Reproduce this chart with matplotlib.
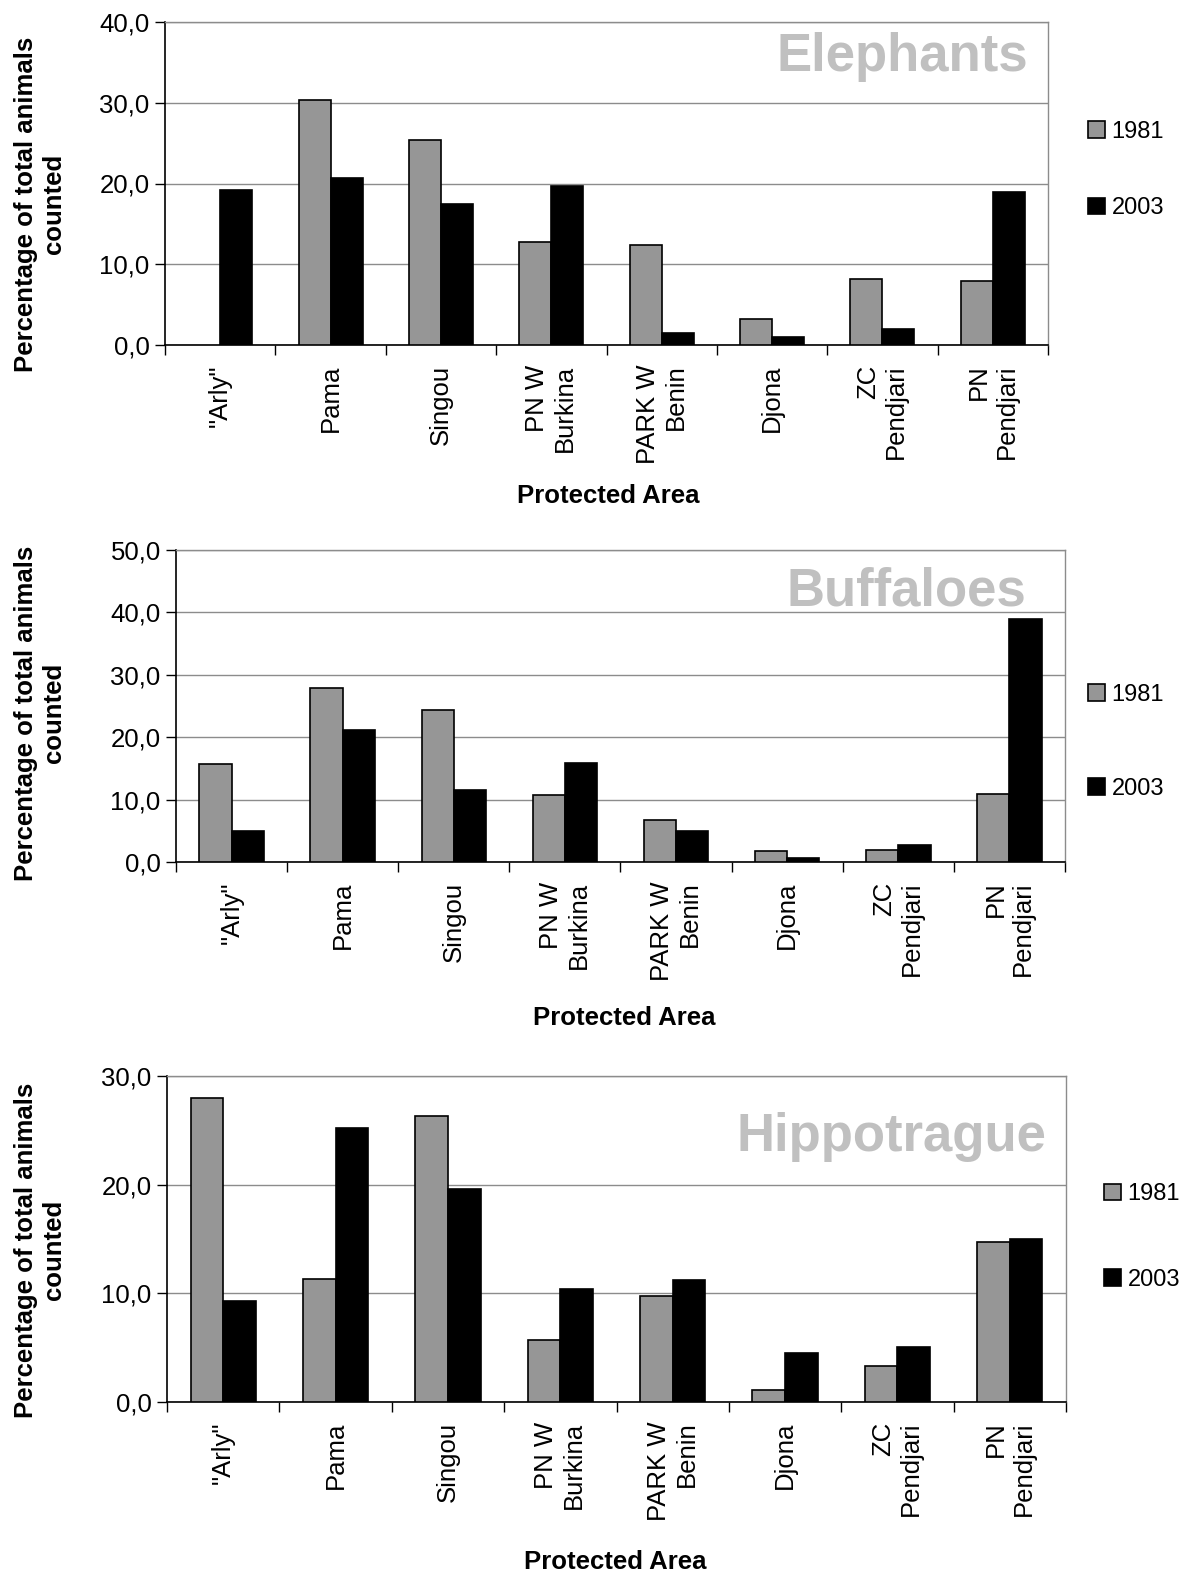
import matplotlib
matplotlib.use("Agg")
import matplotlib.pyplot as plt
import matplotlib.patches as mpatches
import numpy as np

plt.rcParams["font.family"] = ["Liberation Sans", "DejaVu Sans"]

# ---------------------------------------------------------------------------
# Data: share of total animals counted per protected area (%)
# ---------------------------------------------------------------------------
areas = ['"Arly"', "Pama", "Singou", "PN W\nBurkina", "PARK W\nBenin",
         "Djona", "ZC\nPendjari", "PN\nPendjari"]
years = ["1981", "2003"]

elephants_1981 = [0.0, 30.4, 25.4, 12.7, 12.4, 3.2, 8.2, 7.9]
elephants_2003 = [19.2, 20.7, 17.5, 19.7, 1.5, 1.0, 2.0, 18.9]

buffaloes_1981 = [15.7, 27.9, 24.3, 10.7, 6.8, 1.7, 2.0, 10.9]
buffaloes_2003 = [4.9, 21.2, 11.6, 15.8, 4.9, 0.7, 2.7, 38.9]

hippo_1981 = [28.0, 11.3, 26.3, 5.7, 9.8, 1.1, 3.3, 14.7]
hippo_2003 = [9.3, 25.2, 19.6, 10.4, 11.2, 4.5, 5.1, 15.0]

panels = [
    ("Elephants", elephants_1981, elephants_2003, 40),
    ("Buffaloes", buffaloes_1981, buffaloes_2003, 50),
    ("Hippotrague", hippo_1981, hippo_2003, 30),
]

# ---------------------------------------------------------------------------
# Layout (pixel boxes on a 1186 x 1577 canvas)
# ---------------------------------------------------------------------------
W, H = 1186, 1577
DPI = 100
# left, right, top, bottom of each plot area
boxes = [(165, 1048, 22, 345), (176, 1065, 550, 862), (167, 1066, 1076, 1402)]
title_pos = [(1028, 57), (1026, 592), (1046, 1137)]
legend_pos = [(1088, 170, 2.3), (1088, 742, 3.05), (1104, 1237, 2.7)]
ylabel_y = [204, 713, 1250]
xlabel_pos = [(608, 496), (624, 1018), (615, 1562)]

GREY = "#969696"
BLACK = "#000000"
GRID = "#8c8c8c"

fig = plt.figure(figsize=(W / DPI, H / DPI), dpi=DPI)

x = np.arange(len(areas))
bw = 0.29


def nonzero(vals):
    # empty bars are not drawn at all (no flat outline on the axis)
    v = np.asarray(vals, dtype=float)
    return np.where(v > 0, v, np.nan)


for i, (name, v81, v03, ymax) in enumerate(panels):
    l, r, t, b = boxes[i]
    ax = fig.add_axes([l / W, 1 - b / H, (r - l) / W, (b - t) / H])

    ax.bar(x - bw / 2, nonzero(v81), width=bw, color=GREY, edgecolor="black",
           linewidth=1.2, zorder=3, label=years[0])
    ax.bar(x + bw / 2, nonzero(v03), width=bw, color=BLACK, edgecolor="black",
           linewidth=1.2, zorder=3, label=years[1])

    ax.set_xlim(-0.5, len(areas) - 0.5)
    ax.set_ylim(0, ymax)

    yt = np.arange(0, ymax + 1, 10)
    ax.set_yticks(yt)
    ax.set_yticklabels([f"{v:.1f}".replace(".", ",") for v in yt], fontsize=18.5)
    ax.grid(axis="y", color=GRID, linewidth=1.0, zorder=0)

    # category labels between boundary ticks
    ax.set_xticks(x)
    ax.set_xticklabels(areas, rotation=90, ha="center", va="top",
                       multialignment="right", fontsize=18.5)
    ax.tick_params(axis="x", which="major", length=0, pad=14)
    ax.set_xticks(np.arange(-0.5, len(areas)), minor=True)
    ax.tick_params(axis="x", which="minor", length=7, width=1.0, color="black")
    ax.tick_params(axis="y", length=7, width=1.0, pad=4)

    for side in ("top", "right"):
        ax.spines[side].set_color(GRID)
        ax.spines[side].set_linewidth(1.0)
    for side in ("left", "bottom"):
        ax.spines[side].set_color("black")
        ax.spines[side].set_linewidth(1.2)

    # big grey panel title
    tx, ty = title_pos[i]
    fig.text(tx / W, 1 - ty / H, name, ha="right", va="center",
             fontsize=38, fontweight="bold", color="#c0c0c0")

    # legend on the right of the plot area
    lx, ly, spacing = legend_pos[i]
    handles = [mpatches.Patch(facecolor=GREY, edgecolor="black", linewidth=1.2, label=years[0]),
               mpatches.Patch(facecolor=BLACK, edgecolor="black", linewidth=1.2, label=years[1])]
    fig.legend(handles=handles, loc="center left",
               bbox_to_anchor=(lx / W, 1 - ly / H), frameon=False,
               fontsize=17, handlelength=0.7, handleheight=0.7,
               handletextpad=0.3, labelspacing=spacing,
               borderpad=0, borderaxespad=0)

    fig.text(40 / W, 1 - ylabel_y[i] / H, "Percentage of total animals\ncounted",
             rotation=90, ha="center", va="center", multialignment="center",
             fontsize=18.5, fontweight="bold")

    xx, xy = xlabel_pos[i]
    fig.text(xx / W, 1 - xy / H, "Protected Area", ha="center", va="center",
             fontsize=18.5, fontweight="bold")

fig.savefig("out.png", dpi=DPI)
